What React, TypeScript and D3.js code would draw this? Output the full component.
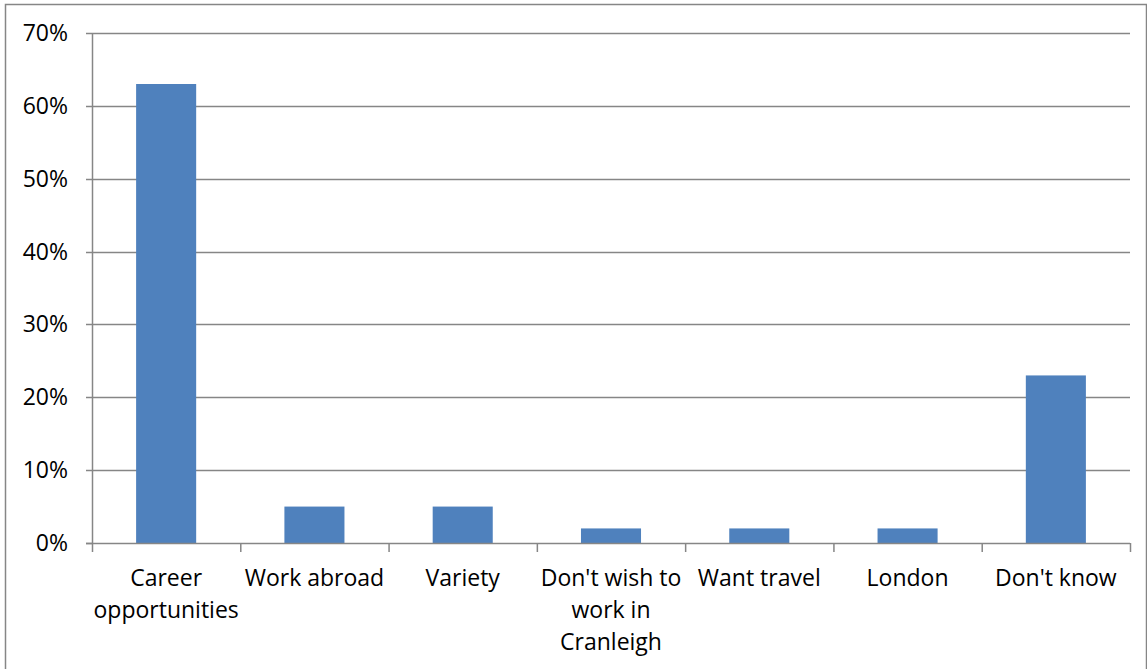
import React from "react";
import * as d3 from "d3";

const categories: string[][] = [
  ["Career", "opportunities"],
  ["Work abroad"],
  ["Variety"],
  ["Don't wish to", "work in", "Cranleigh"],
  ["Want travel"],
  ["London"],
  ["Don't know"],
];
const values: number[] = [63, 5, 5, 2, 2, 2, 23];
const yTicks: number[] = [0, 10, 20, 30, 40, 50, 60, 70];

const W = 1147;
const H = 669;
const left = 92;
const right = 1130;
const top = 33;
const bottom = 543;
const FONT = "'Open Sans', 'Noto Sans', sans-serif";

export default function App() {
  const keys = categories.map((_, i) => String(i));
  const x = d3.scaleBand<string>().domain(keys).range([left, right]).paddingInner(0).paddingOuter(0);
  const y = d3.scaleLinear().domain([0, 70]).range([bottom, top]);
  const bw = x.bandwidth() * 0.405;
  const grid = "#868686";
  return (
    <svg width={W} height={H} style={{ position: "absolute", left: 0, top: 0, background: "#fff" }}>
      <rect x={5.5} y={4.5} width={1141} height={700} fill="#fff" stroke={grid} strokeWidth={1.5} />
      {yTicks.map((t) => (
        <g key={t}>
          {t > 0 && <line x1={left} x2={right} y1={Math.round(y(t)) + 0.5} y2={Math.round(y(t)) + 0.5} stroke={grid} strokeWidth={1.5} />}
          <line x1={left - 6} x2={left} y1={Math.round(y(t)) + 0.5} y2={Math.round(y(t)) + 0.5} stroke={grid} strokeWidth={1.5} />
          <text x={68} y={y(t)} dy="0.35em" textAnchor="end" fontFamily={FONT} fontSize={23} fill="#000">
            {t}%
          </text>
        </g>
      ))}
      {values.map((v, i) => {
        const cx = (x(String(i)) as number) + x.bandwidth() / 2;
        return <rect key={i} x={cx - bw / 2} y={y(v)} width={bw} height={y(0) - y(v)} fill="#4F81BD" />;
      })}
      <line x1={left + 0.5} x2={left + 0.5} y1={top} y2={bottom} stroke={grid} strokeWidth={1.5} />
      <line x1={left - 6} x2={right} y1={bottom + 0.5} y2={bottom + 0.5} stroke={grid} strokeWidth={1.5} />
      {keys.concat([String(keys.length)]).map((k, i) => {
        const xx = i < keys.length ? (x(k) as number) : right;
        return <line key={k} x1={xx + 0.5} x2={xx + 0.5} y1={bottom} y2={bottom + 9} stroke={grid} strokeWidth={1.5} />;
      })}
      {categories.map((lines, i) => {
        const cx = (x(String(i)) as number) + x.bandwidth() / 2;
        return (
          <text key={i} x={cx} textAnchor="middle" fontFamily={FONT} fontSize={23} fill="#000">
            {lines.map((l, j) => (
              <tspan key={j} x={cx} y={578 + j * 32} dy="0.35em">
                {l}
              </tspan>
            ))}
          </text>
        );
      })}
    </svg>
  );
}
